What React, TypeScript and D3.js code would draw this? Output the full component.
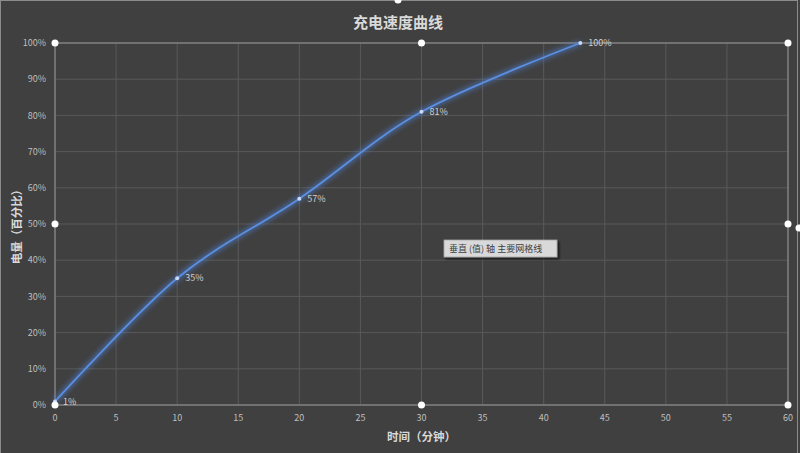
import React from 'react';
import * as d3 from 'd3';

const minutes = [0, 10, 20, 30, 43];
const charge = [1, 35, 57, 81, 100];
const xTicks = [0, 5, 10, 15, 20, 25, 30, 35, 40, 45, 50, 55, 60];
const yTicks = [0, 10, 20, 30, 40, 50, 60, 70, 80, 90, 100];

const W = 800;
const H = 453;

export default function App() {
  const x = d3.scaleLinear().domain([0, 60]).range([55, 788]);
  const y = d3.scaleLinear().domain([0, 100]).range([405, 43]);

  const pts = minutes.map((m, i) => ({ m, v: charge[i] }));
  const line = d3.line<{ m: number; v: number }>()
    .x(d => x(d.m))
    .y(d => y(d.v))
    .curve(d3.curveCardinal.tension(0));
  const path = line(pts) || '';

  const [x0, x1] = x.range();
  const [y0, y1] = y.range();
  const xm = (x0 + x1) / 2;
  const ym = (y0 + y1) / 2;

  // selection handles of the plot area
  const handles = [
    [x0, y1], [xm, y1], [x1, y1],
    [x0, ym], [x1, ym],
    [x0, y0], [xm, y0], [x1, y0],
  ];

  const font = "'Microsoft YaHei', 'Noto Sans CJK SC', sans-serif";

  return (
    <div style={{ position: 'fixed', left: 0, top: 0, width: W, height: H }}>
      <svg width={W} height={H} style={{ display: 'block', fontFamily: font }}>
        <defs>
          <filter id="glow" x="-20%" y="-20%" width="140%" height="140%">
            <feGaussianBlur stdDeviation="2.5" />
          </filter>
          <filter id="shadow" x="-10%" y="-30%" width="130%" height="180%">
            <feDropShadow dx="2" dy="2" stdDeviation="1" floodColor="#000" floodOpacity="0.6" />
          </filter>
        </defs>
        <rect x={0} y={0} width={W} height={H} fill="#404040" />
        {/* chart area frame */}
        <rect x={0.5} y={0.5} width={W - 3} height={H + 10} fill="none" stroke="#8c8c8c" strokeWidth={1} />

        {/* grid */}
        {xTicks.map(t => (
          <line key={'gx' + t} x1={x(t)} x2={x(t)} y1={y1} y2={y0} stroke="#595959" strokeWidth={1} />
        ))}
        {yTicks.map(t => (
          <line key={'gy' + t} x1={x0} x2={x1} y1={y(t)} y2={y(t)} stroke="#595959" strokeWidth={1} />
        ))}
        {/* plot area selection border */}
        <rect x={x0} y={y1} width={x1 - x0} height={y0 - y1} fill="none" stroke="#8a8a8a" strokeWidth={1.2} />

        {/* tick labels */}
        {yTicks.map(t => (
          <text key={'ly' + t} x={x0 - 9} y={y(t)} dy="0.35em" textAnchor="end" fontSize={9} fill="#bfbfbf">
            {t}%
          </text>
        ))}
        {xTicks.map(t => (
          <text key={'lx' + t} x={x(t)} y={y0 + 16} textAnchor="middle" fontSize={9} fill="#bfbfbf">
            {t}
          </text>
        ))}

        {/* series */}
        <path d={path} fill="none" stroke="#4f86e8" strokeWidth={5} strokeOpacity={0.55} filter="url(#glow)" />
        <path d={path} fill="none" stroke="#5b8fe0" strokeWidth={1.8} />
        {pts.map(p => (
          <g key={'p' + p.m}>
            <circle cx={x(p.m)} cy={y(p.v)} r={2} fill="#c9d8f5" />
            <text x={x(p.m) + 8} y={y(p.v)} dy="0.35em" fontSize={9} fill="#d0d0d0">
              {p.v}%
            </text>
          </g>
        ))}

        {/* handles */}
        {handles.map(([hx, hy], i) => (
          <circle key={'h' + i} cx={hx} cy={hy} r={3.5} fill="#ffffff" />
        ))}
        <circle cx={398} cy={0} r={3.5} fill="#ffffff" />
        <circle cx={799} cy={228} r={3.5} fill="#ffffff" />

        {/* title */}
        <text x={398} y={28} textAnchor="middle" fontSize={15} fontWeight="bold" fill="#d9d9d9">
          充电速度曲线
        </text>
        {/* axis titles */}
        <text x={xm} y={441} textAnchor="middle" fontSize={11.5} fontWeight="bold" fill="#d9d9d9">
          时间（分钟）
        </text>
        <text transform={`translate(17,${ym}) rotate(-90)`} textAnchor="middle" dy="0.35em" fontSize={11.5} fontWeight="bold" fill="#d9d9d9">
          电量（百分比）
        </text>

        {/* tooltip */}
        <g filter="url(#shadow)">
          <rect x={444} y={240} width={113} height={17} fill="#d9d9d9" stroke="#a6a6a6" strokeWidth={0.8} />
        </g>
        <text x={449} y={249} dy="0.35em" fontSize={9} fill="#404040">
          垂直 (值) 轴 主要网格线
        </text>
      </svg>
    </div>
  );
}
